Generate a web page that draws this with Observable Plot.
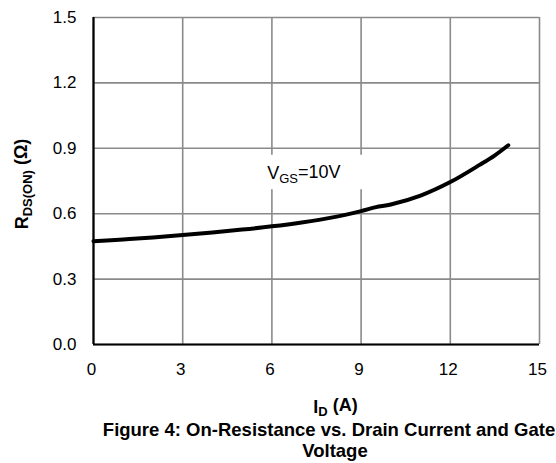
<!DOCTYPE html>
<html>
<head>
<meta charset="utf-8">
<script src="https://cdn.jsdelivr.net/npm/d3@7"></script>
<script src="https://cdn.jsdelivr.net/npm/@observablehq/plot@0.6"></script>
<style>
  body { margin: 0; background: #fff; overflow: hidden; width: 556px; height: 463px; position: relative; }
  .cap { position: absolute; left: 0; width: 670px; text-align: center;
    font: bold 18.5px "Liberation Sans", Arial, sans-serif; line-height: 21px; white-space: nowrap; color: #000; }
  #cap1 { top: 419px; left: -6px; }
  #cap2 { top: 440px; }
</style>
</head>
<body>
<div id="chart"></div>
<div class="cap" id="cap1">Figure 4: On-Resistance vs. Drain Current and Gate</div>
<div class="cap" id="cap2">Voltage</div>
<script>
// Data
const currentA = [0, 1, 2, 3, 4, 5, 6, 7, 8, 9, 9.5, 10, 11, 12, 13, 13.5, 13.95];
const rdsOn    = [0.474, 0.482, 0.491, 0.502, 0.514, 0.527, 0.542, 0.560, 0.582, 0.612, 0.630, 0.642, 0.683, 0.745, 0.825, 0.868, 0.914];
const xTicks = [0, 3, 6, 9, 12, 15];
const yTicks = [0, 0.3, 0.6, 0.9, 1.2, 1.5];
const seriesLabel = "VGS=10V";
const labelBox = [{x1: 5.6, x2: 9.05, y1: 0.71, y2: 0.868}];
const labelPos = [{x: 5.84, y: 0.785}];
const xLabel = "ID (A)";
const yLabel = "RDS(ON) (Ω)";

const data = currentA.map((x, i) => ({x, y: rdsOn[i]}));
const gridColor = "#8a8a8a";

const plot = Plot.plot({
  width: 556,
  height: 418,
  marginLeft: 93,
  marginRight: 17,
  marginTop: 17,
  marginBottom: 74,
  style: {fontFamily: "'Liberation Sans', Arial, sans-serif", fontSize: "17px", color: "#000", background: "#fff", overflow: "visible"},
  x: {domain: [0, 15], ticks: xTicks, label: null},
  y: {domain: [0, 1.5], ticks: yTicks, label: null, tickFormat: d3.format(".1f")},
  marks: [
    Plot.gridX(xTicks, {stroke: gridColor, strokeOpacity: 1, strokeWidth: 1.6}),
    Plot.gridY(yTicks, {stroke: gridColor, strokeOpacity: 1, strokeWidth: 1.6}),
    Plot.rect(labelBox, {x1: "x1", x2: "x2", y1: "y1", y2: "y2", fill: "#fff"}),
    Plot.axisX({ticks: xTicks, tickSize: 0, tickPadding: 18, label: null, fontSize: 17, dx: -2}),
    Plot.axisY({ticks: yTicks, tickSize: 0, tickPadding: 17, label: null, fontSize: 17, tickFormat: d3.format(".1f")}),
    Plot.ruleY([0], {stroke: "#000", strokeWidth: 2.2}),
    Plot.ruleX([0], {stroke: "#000", strokeWidth: 2.2}),
    Plot.line(data, {x: "x", y: "y", stroke: "#000", strokeWidth: 4, curve: "catmull-rom"}),
    Plot.text(labelPos, {x: "x", y: "y", text: () => seriesLabel, textAnchor: "start", fontSize: 18}),
    Plot.text([xLabel], {frameAnchor: "bottom", text: d => d, textAnchor: "middle", dx: 19, dy: 68, fontWeight: "bold", fontSize: 18}),
    Plot.text([yLabel], {frameAnchor: "left", text: d => d, textAnchor: "middle", lineAnchor: "middle", rotate: -90, dx: -71, dy: 3, fontWeight: "bold", fontSize: 18})
  ]
});
document.getElementById("chart").appendChild(plot);

// Subscript formatting
function sub(textEl, main, subscript, rest, subSize) {
  const t = d3.select(textEl);
  t.text(null);
  t.append("tspan").text(main);
  t.append("tspan").attr("font-size", subSize).attr("dy", "0.3em").text(subscript);
  t.append("tspan").attr("dy", "-0.3em").text(rest);
}
d3.select(plot).selectAll("text").each(function () {
  const s = this.textContent;
  if (s === seriesLabel) sub(this, "V", "GS", "=10V", 13);
  else if (s === xLabel) sub(this, "I", "D", " (A)", 13);
  else if (s === yLabel) sub(this, "R", "DS(ON)", " (Ω)", 13);
});
</script>
</body>
</html>
